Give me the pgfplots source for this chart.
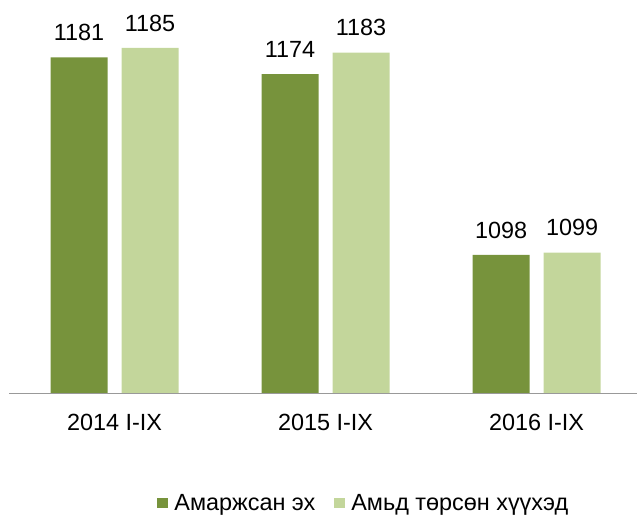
\documentclass[border=0pt]{standalone}
\usepackage{fontspec}
\setmainfont{Liberation Sans}
\usepackage{pgfplots}
\pgfplotsset{compat=1.18}
\definecolor{darkg}{HTML}{77933C}
\definecolor{lightg}{HTML}{C3D69B}
\begin{document}
\begin{tikzpicture}
\path[use as bounding box] (0,0) rectangle (637bp,516bp);
\begin{axis}[
  at={(9bp,123bp)}, anchor=south west,
  scale only axis,
  width=628bp, height=380.8bp,
  xmin=-0.5, xmax=2.476,
  ymin=1040, ymax=1200,
  axis x line*=bottom,
  axis y line=none,
  x axis line style={draw=gray!80, line width=1pt, -},
  xtick={0,1,2},
  xticklabels={2014 I-IX,2015 I-IX,2016 I-IX},
  major tick length=0pt,
  ytick=\empty,
  font=\fontsize{23.5}{28}\selectfont,
  xticklabel style={anchor=north, yshift=-18bp, font=\fontsize{23.5}{28}\selectfont},
  ybar, bar width=57bp,
  /pgf/number format/assume math mode=true,
  /pgf/number format/1000 sep={},
  nodes near coords,
  nodes near coords style={font=\fontsize{23.5}{28}\selectfont, anchor=south, yshift=13bp, text=black},
  legend columns=2,
  legend style={draw=none, at={(axis description cs:0.565,-0.289)}, anchor=center,
    font=\fontsize{23.5}{28}\selectfont, /tikz/every even column/.append style={column sep=17bp}},
  legend image code/.code={\fill[#1] (0bp,-5bp) rectangle (10.5bp,5.5bp); \path (15bp,0bp);},
]
\addplot[fill=darkg, draw=none, bar shift=-35.5bp] coordinates {(0,1181) (1,1174) (2,1098)};
\addplot[fill=lightg, draw=none, bar shift=35.5bp] coordinates {(0,1185) (1,1183) (2,1099)};
\legend{Амаржсан эх, Амьд төрсөн хүүхэд}
\end{axis}
\end{tikzpicture}
\end{document}
